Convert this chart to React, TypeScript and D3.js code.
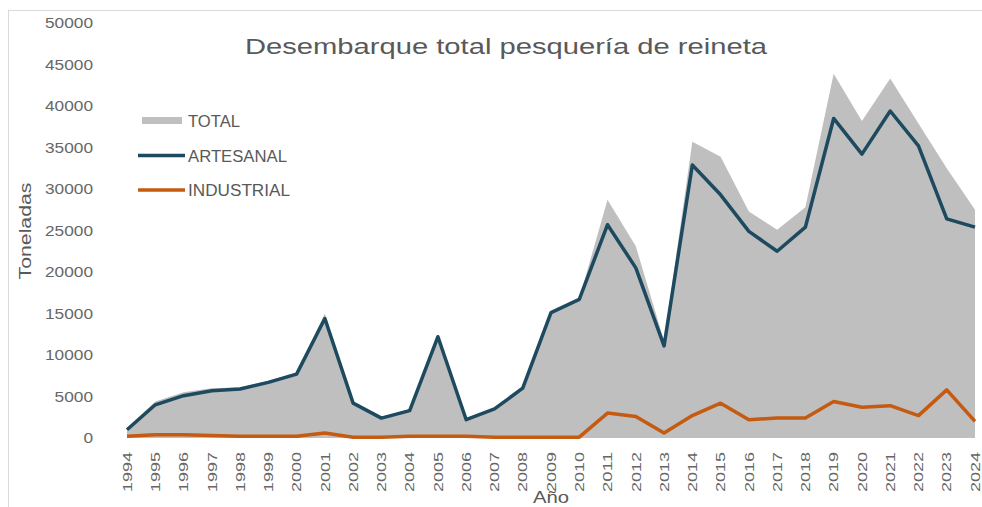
import React from "react";
import * as d3 from "d3";

const years = [1994,1995,1996,1997,1998,1999,2000,2001,2002,2003,2004,2005,2006,2007,2008,2009,2010,2011,2012,2013,2014,2015,2016,2017,2018,2019,2020,2021,2022,2023,2024];
const artesanal = [1000,4000,5100,5700,5900,6700,7700,14400,4200,2400,3300,12200,2200,3500,6000,15100,16700,25700,20500,11100,32900,29300,24900,22500,25400,38500,34200,39400,35200,26400,25400];
const industrial = [200,400,400,300,200,200,200,600,100,100,200,200,200,100,100,100,100,3000,2600,600,2700,4200,2200,2400,2400,4400,3700,3900,2700,5800,2000];
const total = [1200,4400,5500,6000,6100,6900,7900,15000,4300,2500,3500,12400,2400,3600,6100,15200,16800,28700,23100,11700,35700,33900,27300,25100,27800,43900,38200,43300,37900,32500,27500];
const yTicks = [0,5000,10000,15000,20000,25000,30000,35000,40000,45000,50000];

const W = 982, H = 507;
const textColor = "#595959";
const tickColor = "#666666";
const grayFill = "#bfbfbf";
const darkLine = "#1d4a5e";
const orangeLine = "#c55a11";
const font = "'Liberation Sans', Arial, sans-serif";

export default function App() {
  const x = d3.scalePoint<number>().domain(years).range([127, 975]);
  const y = d3.scaleLinear().domain([0, 50000]).range([438, 23]);

  const area = d3.area<number>()
    .x((_, i) => x(years[i])!)
    .y0(y(0))
    .y1((d) => y(d));
  const line = d3.line<number>()
    .x((_, i) => x(years[i])!)
    .y((d) => y(d));

  return (
    <svg width={W} height={H} style={{ position: "absolute", left: 0, top: 0 }} fontFamily={font}>
      <rect x={0} y={0} width={W} height={H} fill="#fff" />
      <rect x={8.5} y={10.5} width={W + 10} height={H + 10} fill="none" stroke="#d9d9d9" strokeWidth={1} />
      <text x={506} y={54} textAnchor="middle" fontSize={22} fill={textColor} textLength={522} lengthAdjust="spacingAndGlyphs">
        Desembarque total pesquería de reineta
      </text>
      {yTicks.map((t) => {
        const s = String(t);
        return (
          <text key={t} x={93} y={y(t)} dy="0.35em" textAnchor="end" fontSize={15} fill={tickColor}
            textLength={9.6 * s.length} lengthAdjust="spacingAndGlyphs">
            {s}
          </text>
        );
      })}
      <path d={area(total) ?? ""} fill={grayFill} />
      <path d={line(artesanal) ?? ""} fill="none" stroke={darkLine} strokeWidth={3.5} strokeLinejoin="round" />
      <path d={line(industrial) ?? ""} fill="none" stroke={orangeLine} strokeWidth={3.5} strokeLinejoin="round" />
      {years.map((yr) => (
        <text
          key={yr}
          transform={`translate(${x(yr)},${452}) rotate(-90)`}
          dy="0.35em"
          textAnchor="end"
          fontSize={13.5}
          fill={tickColor}
          textLength={40}
          lengthAdjust="spacingAndGlyphs"
        >
          {yr}
        </text>
      ))}
      <text x={551} y={503} textAnchor="middle" fontSize={17} fill={textColor} textLength={36} lengthAdjust="spacingAndGlyphs">Año</text>
      <text transform={`translate(31,231) rotate(-90)`} textAnchor="middle" fontSize={16} fill={textColor}
        textLength={97} lengthAdjust="spacingAndGlyphs">Toneladas</text>
      <g fontSize={16} fill={textColor}>
        <rect x={142} y={117} width={40} height={7} fill={grayFill} />
        <text x={188} y={121} dy="0.35em" textLength={52} lengthAdjust="spacingAndGlyphs">TOTAL</text>
        <line x1={138} x2={185} y1={155.5} y2={155.5} stroke={darkLine} strokeWidth={3.5} />
        <text x={188} y={156} dy="0.35em" textLength={99} lengthAdjust="spacingAndGlyphs">ARTESANAL</text>
        <line x1={138} x2={185} y1={190} y2={190} stroke={orangeLine} strokeWidth={3.5} />
        <text x={188} y={190} dy="0.35em" textLength={102} lengthAdjust="spacingAndGlyphs">INDUSTRIAL</text>
      </g>
    </svg>
  );
}
